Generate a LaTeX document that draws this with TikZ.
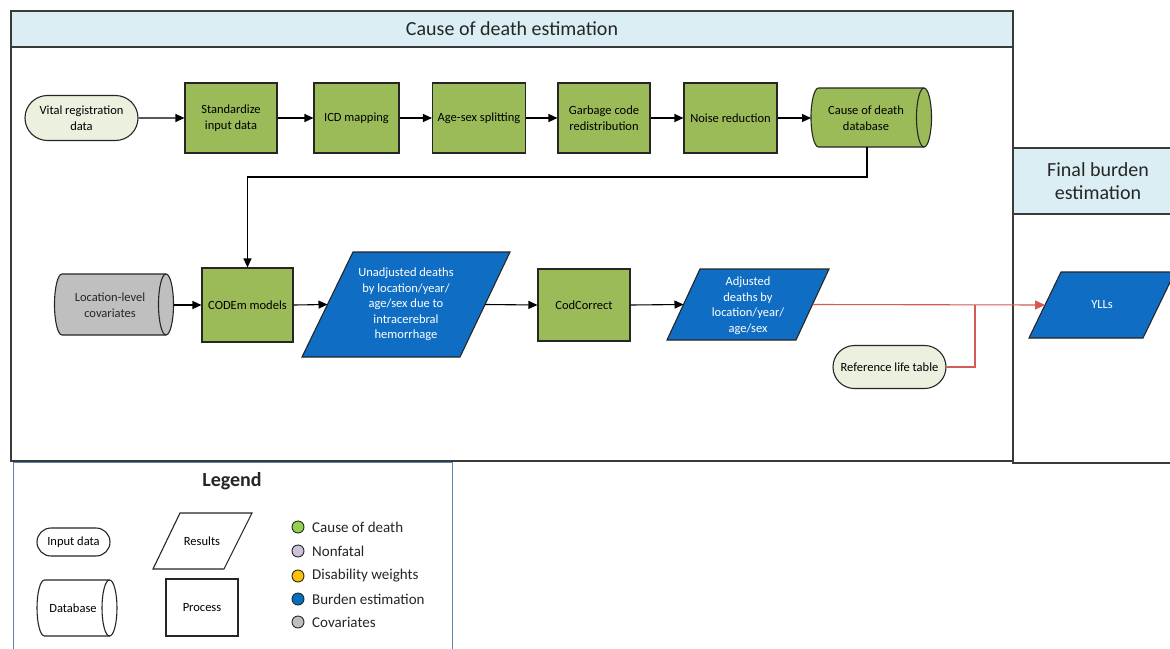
\documentclass[tikz,border=0pt]{standalone}
\usepackage{fontspec}
\setmainfont{Carlito}
\usetikzlibrary{arrows.meta,shapes.misc}
\definecolor{hdr}{HTML}{DAEEF3}
\definecolor{cgreen}{HTML}{9BBB59}
\definecolor{cblue}{HTML}{0F6EC3}
\definecolor{cgray}{HTML}{BFBFBF}
\definecolor{cpale}{HTML}{EBF1DE}
\definecolor{cred}{HTML}{D25A57}
\definecolor{lborder}{HTML}{5B84B1}
\definecolor{framec}{HTML}{3A3A3A}
\definecolor{edgec}{HTML}{262626}
\definecolor{lgreen}{HTML}{92D050}
\definecolor{llav}{HTML}{CCC0DA}
\definecolor{lgold}{HTML}{FFC000}
\definecolor{lblue}{HTML}{0070C0}
\newcommand\nodefont{\fontsize{12.5}{15.5}\selectfont}
\newcommand\hdrfont{\fontsize{20}{23.5}\selectfont}
\newcommand\legfont{\fontsize{15}{18}\selectfont}
\newcommand\drawcyl[5]{% L R T B fill
  \pgfmathsetmacro\cyrad{(#4-#3)/2}
  \draw[draw=edgec, line width=1.1pt, fill=#5] (#1+7.5,#3) -- (#2-7.5,#3)
    arc[start angle=90,end angle=-90,x radius=7.5pt,y radius=\cyrad pt]
    -- (#1+7.5,#4)
    arc[start angle=270,end angle=90,x radius=7.5pt,y radius=\cyrad pt] -- cycle;
  \draw[edgec, line width=1.1pt] (#2-7.5,#3)
    arc[start angle=90,end angle=270,x radius=7.5pt,y radius=\cyrad pt];
}
\newcommand\drawpar[7]{% fill xbl xtl xtr xbr T B
  \draw[draw=edgec, line width=1.1pt, fill=#1] (#2,#7) -- (#3,#6) -- (#4,#6) -- (#5,#7) -- cycle;
}
\tikzset{
  proc/.style={draw=edgec, line width=1.1pt, fill=cgreen, inner sep=0pt, align=center,
    font=\nodefont, text=black, minimum height=70pt},
  pill/.style={rounded rectangle, draw=edgec, line width=1.1pt, fill=cpale, inner sep=0pt,
    align=center, font=\nodefont, text=black},
  lbl/.style={inner sep=0pt, align=center, font=\nodefont},
  conn/.style={draw=black, line width=1.1pt, -{Triangle[length=9pt,width=8pt]}},
  redconn/.style={draw=cred, line width=1.1pt},
  legdot/.style={circle, draw=edgec, line width=0.9pt, minimum size=12pt, inner sep=0pt},
  legtxt/.style={anchor=west, inner sep=0pt, font=\legfont, text=edgec},
}
\begin{document}
\begin{tikzpicture}[x=1pt,y=-1pt]
\useasboundingbox (0,0) rectangle (1170,648);
\clip (0,0) rectangle (1170,648);
\fill[white] (0,0) rectangle (1170,648);

% frames
\fill[hdr] (11,11) rectangle (1013,47);
\draw[framec, line width=1.4pt] (11,11) rectangle (1013,461);
\draw[framec, line width=1.2pt] (11,47) -- (1013,47);
\node[inner sep=0pt, font=\hdrfont, text=edgec] (t1) at (512,29) {Cause of death estimation};

\fill[hdr] (1013,148) rectangle (1185,214);
\draw[framec, line width=1.4pt] (1013,148) rectangle (1185,463);
\draw[framec, line width=1.2pt] (1013,214) -- (1185,214);
\node[inner sep=0pt, font=\hdrfont, text=edgec, align=center] (t2) at (1098,181) {Final burden\\estimation};

% top row
\node[pill, minimum width=113pt, minimum height=45pt] (vital) at (81.5,118) {Vital registration\\data};
\node[proc, minimum width=92pt] (std) at (231,118) {Standardize\\input data};
\node[proc, minimum width=85pt] (icd) at (356.5,118) {ICD mapping};
\node[proc, minimum width=93pt] (agesex) at (479,118) {Age-sex splitting};
\node[proc, minimum width=92pt] (garb) at (604,118) {Garbage code\\redistribution};
\node[proc, minimum width=93pt] (noise) at (730.5,118) {Noise reduction};
\drawcyl{811}{931.5}{88}{147}{cgreen}
\node[lbl] (db) at (866,118) {Cause of death\\database};
\coordinate (dbW) at (811,118);
\coordinate (dbS) at (867,147);

\draw[conn] (vital) -- (std);
\draw[conn] (std) -- (icd);
\draw[conn] (icd) -- (agesex);
\draw[conn] (agesex) -- (garb);
\draw[conn] (garb) -- (noise);
\draw[conn] (noise) -- (dbW);

% middle row
\drawcyl{54.5}{173.5}{274}{335}{cgray}
\node[lbl, text=edgec] (cov) at (110,305) {Location-level\\covariates};
\coordinate (covE) at (173.5,305);
\node[proc, minimum width=91pt, minimum height=74pt] (codem) at (247.5,305) {CODEm models};

\drawpar{cblue}{302}{353}{510}{460}{252}{357}
\node[lbl, text=white] (unadj) at (406,304.5) {Unadjusted deaths\\by location/year/\\age/sex due to\\intracerebral\\hemorrhage};
\coordinate (unadjW) at (327.5,304.5);
\coordinate (unadjE) at (485,304.5);

\node[proc, minimum width=92pt, minimum height=72pt] (codc) at (584,305) {CodCorrect};

\drawpar{cblue}{667}{700}{829}{796}{269}{340}
\node[lbl, text=white] (adj) at (748,305.5) {Adjusted\\deaths by\\location/year/\\age/sex};
\coordinate (adjW) at (683.5,304.5);
\coordinate (adjE) at (812.5,304.5);

\node[pill, minimum width=113pt, minimum height=43pt] (ref) at (889.5,367) {Reference life table};

\drawpar{cblue}{1029}{1061}{1175}{1143}{272}{338}
\node[lbl, text=white] (yll) at (1102,305) {YLLs};
\coordinate (yllW) at (1045,305);
\coordinate (junc) at (975,305);

\coordinate (bend) at (247.5,177);
\draw[conn] (dbS) |- (bend) -- (codem.north);
\draw[conn] (covE) -- (codem.west);
\draw[conn] (codem.east) -- (unadjW);
\draw[conn] (unadjE) -- (codc.west);
\draw[conn] (codc.east) -- (adjW);
\draw[redconn, -{Triangle[length=10pt,width=9pt]}] (adjE) -- (yllW);
\draw[redconn] (ref.east) -| (junc);

% legend
\draw[lborder, line width=1pt] (13,462) rectangle (452,680);
\node[inner sep=0pt, font=\fontsize{20}{24}\selectfont\bfseries, text=edgec] (legt) at (232,481) {Legend};
\node[pill, fill=white, minimum width=73pt, minimum height=28pt] (lin) at (73.5,542) {Input data};
\drawpar{white}{153}{180}{252}{224}{513}{569}
\node[lbl] (lres) at (202,541) {Results};
\drawcyl{37}{117}{580}{636}{white}
\node[lbl] (ldb) at (73,608) {Database};
\node[proc, fill=white, minimum width=72pt, minimum height=57pt] (lproc) at (202,607.5) {Process};

\node[legdot, fill=lgreen] (d1) at (298,527) {};
\node[legdot, fill=llav] (d2) at (298,551) {};
\node[legdot, fill=lgold] (d3) at (298,576) {};
\node[legdot, fill=lblue] (d4) at (298,599) {};
\node[legdot, fill=cgray] (d5) at (298,622) {};
\node[legtxt] (e1) at (312,527) {Cause of death};
\node[legtxt] (e2) at (312,551) {Nonfatal};
\node[legtxt] (e3) at (312,576) {Disability weights};
\node[legtxt] (e4) at (312,599) {Burden estimation};
\node[legtxt] (e5) at (312,622) {Covariates};
\end{tikzpicture}
\end{document}
